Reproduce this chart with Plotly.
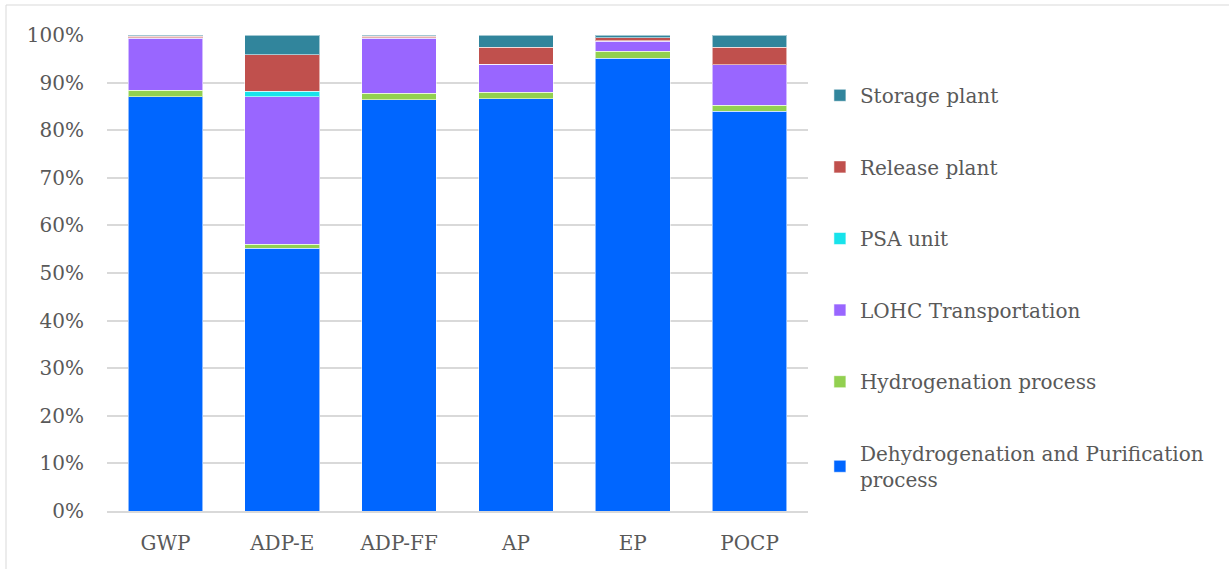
import plotly.graph_objects as go

categories = ["GWP", "ADP-E", "ADP-FF", "AP", "EP", "POCP"]

# Share of each life-cycle stage per impact category (fraction of 1)
dehydrogenation = [0.870, 0.552, 0.864, 0.866, 0.951, 0.840]
hydrogenation = [0.014, 0.008, 0.014, 0.014, 0.015, 0.012]
lohc_transport = [0.1095, 0.310, 0.1155, 0.059, 0.021, 0.086]
psa_unit = [0.0005, 0.012, 0.0005, 0.000, 0.001, 0.000]
release_plant = [0.003, 0.076, 0.003, 0.035, 0.006, 0.036]
storage_plant = [0.003, 0.042, 0.003, 0.026, 0.006, 0.026]

series = [
    ("Dehydrogenation and Purification<br>process", dehydrogenation, "#0066FF"),
    ("Hydrogenation process", hydrogenation, "#92D050"),
    ("LOHC Transportation", lohc_transport, "#9966FF"),
    ("PSA unit", psa_unit, "#17E3EB"),
    ("Release plant", release_plant, "#C0504D"),
    ("Storage plant", storage_plant, "#31859C"),
]

font_family = "DejaVu Serif"
text_grey = "#595959"

fig = go.Figure()
n = len(series)
for i, (name, values, color) in enumerate(series):
    fig.add_trace(go.Bar(
        x=categories,
        y=values,
        name=name,
        legendgroup=f"g{i}",
        legendrank=n - i,  # top segment listed first
        marker=dict(color=color, line=dict(color="rgba(255,255,255,0.55)", width=1)),
    ))

fig.update_layout(
    barmode="stack",
    bargap=0.36,
    width=1229,
    height=569,
    margin=dict(l=107, r=421, t=35, b=58),
    paper_bgcolor="white",
    plot_bgcolor="white",
    font=dict(family=font_family, color=text_grey, size=20),
    showlegend=True,
    legend=dict(
        traceorder="grouped",
        tracegroupgap=42.6,
        x=1.017,
        xanchor="left",
        y=0.470,
        yanchor="middle",
        font=dict(family=font_family, size=20, color=text_grey),
        itemwidth=30,
        bgcolor="rgba(0,0,0,0)",
    ),
    xaxis=dict(
        automargin=False,
        showline=True,
        linecolor="#D9D9D9",
        linewidth=2,
        ticks="",
        ticklabelstandoff=13,
        tickfont=dict(family=font_family, size=20, color=text_grey),
    ),
    yaxis=dict(
        automargin=False,
        range=[0, 1],
        dtick=0.1,
        tickformat=".0%",
        showgrid=True,
        gridcolor="#D9D9D9",
        gridwidth=2,
        zeroline=False,
        showline=False,
        ticks="",
        ticklabelstandoff=22,
        tickfont=dict(family=font_family, size=20, color=text_grey),
    ),
    shapes=[
        dict(
            type="rect",
            xref="paper",
            yref="paper",
            x0=(6 - 107) / 701,
            x1=(1240 - 107) / 701,
            y0=(511 - 580) / 476,
            y1=(511 - 5) / 476,
            line=dict(color="#D9D9D9", width=1),
            fillcolor="rgba(0,0,0,0)",
            layer="below",
        )
    ],
)

fig.write_html("out.html")
